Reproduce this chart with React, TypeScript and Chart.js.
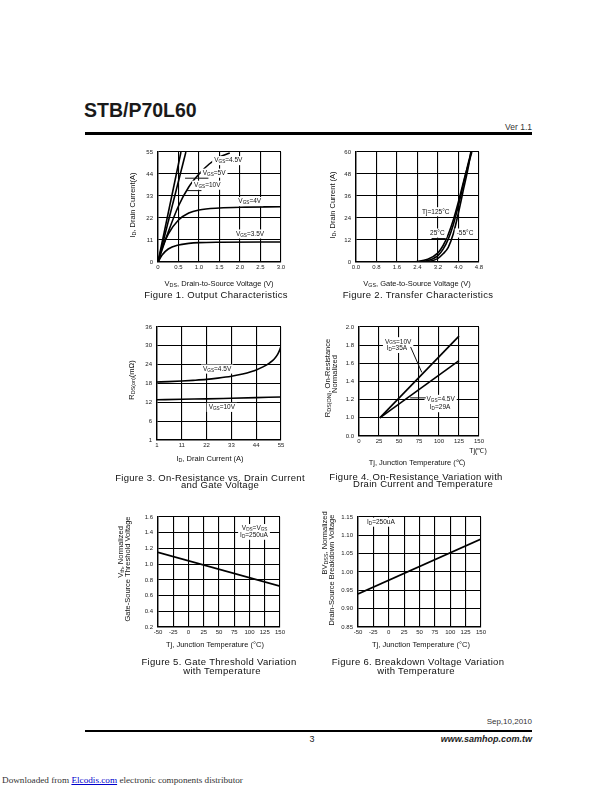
import React, { useEffect, useRef } from "react";
import { Chart, registerables } from "chart.js";

Chart.register(...registerables);

const FONT = '"Liberation Sans", Arial, Helvetica, sans-serif';

// ---------------- Figure 1: Output Characteristics ----------------
const fig1XTicks = [0, 0.5, 1, 1.5, 2, 2.5, 3];
const fig1XTickLabels = ["0", "0.5", "1.0", "1.5", "2.0", "2.5", "3.0"];
const fig1YTicks = [0, 11, 22, 33, 44, 55];
const fig1YTickLabels = ["0", "11", "22", "33", "44", "55"];
const fig1Vgs10Vds = [0, 0.56];
const fig1Vgs10Id = [0, 55];
const fig1Vgs5Vds = [0, 0.68];
const fig1Vgs5Id = [0, 55];
const fig1Vgs45Vds = [0, 0.25, 0.5, 0.75, 1.0, 1.25, 1.5, 1.75];
const fig1Vgs45Id = [0, 15, 28, 37.5, 44, 49, 52.5, 54.5];
const fig1Vgs4Vds = [0, 0.1, 0.25, 0.5, 0.75, 1.0, 1.5, 2.0, 3.0];
const fig1Vgs4Id = [0, 7, 14, 21, 24.5, 26, 27, 27.4, 27.6];
const fig1Vgs35Vds = [0, 0.1, 0.25, 0.5, 0.75, 1.0, 1.5, 3.0];
const fig1Vgs35Id = [0, 3.5, 6.5, 8.5, 9.3, 9.7, 9.9, 10.0];

// ---------------- Figure 2: Transfer Characteristics ----------------
const fig2XTicks = [0, 0.8, 1.6, 2.4, 3.2, 4.0, 4.8];
const fig2XTickLabels = ["0.0", "0.8", "1.6", "2.4", "3.2", "4.0", "4.8"];
const fig2YTicks = [0, 12, 24, 36, 48, 60];
const fig2YTickLabels = ["0", "12", "24", "36", "48", "60"];
const fig2T125Vgs = [0, 2.0, 2.4, 2.8, 3.2, 3.4, 3.6, 3.8, 4.0, 4.2, 4.4, 4.52];
const fig2T125Id = [0, 0, 0.3, 1.5, 5, 9, 15, 23, 33, 44, 54, 60];
const fig2T25Vgs = [0, 2.2, 2.4, 2.8, 3.2, 3.4, 3.6, 3.8, 4.0, 4.2, 4.4, 4.5];
const fig2T25Id = [0, 0, 0.1, 0.8, 3.5, 7, 12.5, 20.5, 31, 43, 55, 60];
const fig2Tm55Vgs = [0, 2.4, 2.8, 3.2, 3.4, 3.6, 3.8, 4.0, 4.2, 4.4, 4.48];
const fig2Tm55Id = [0, 0, 0.3, 2, 4.5, 8, 15.5, 27, 40, 53, 60];

// ---------------- Figure 3: On-Resistance vs Drain Current ----------------
const fig3XTicks = [0, 11, 22, 33, 44, 55];
const fig3XTickLabels = ["1", "11", "22", "33", "44", "55"];
const fig3YTicks = [0, 6, 12, 18, 24, 30, 36];
const fig3YTickLabels = ["1", "6", "12", "18", "24", "30", "36"];
const fig3Vgs45Id = [0, 5, 11, 16, 22, 27, 33, 38, 42, 44, 47, 50, 52, 53.5, 54.5, 55];
const fig3Vgs45Rds = [18.5, 18.6, 18.8, 19.0, 19.3, 19.7, 20.3, 21.0, 21.8, 22.3, 23.3, 24.6, 25.8, 27.3, 28.8, 29.9];
const fig3Vgs10Id = [0, 11, 22, 33, 44, 55];
const fig3Vgs10Rds = [12.8, 13.0, 13.1, 13.3, 13.5, 13.7];

// ---------------- Figure 4: On-Resistance vs Temperature ----------------
const fig4XTicks = [0, 25, 50, 75, 100, 125, 150];
const fig4XTickLabels = ["0", "25", "50", "75", "100", "125", "150"];
const fig4YTicks = [0.8, 1.0, 1.2, 1.4, 1.6, 1.8, 2.0];
const fig4YTickLabels = ["0.0", "1.0", "1.2", "1.4", "1.6", "1.8", "2.0"];
const fig4Vgs10Tj = [26, 125];
const fig4Vgs10Rn = [1.0, 1.9];
const fig4Vgs45Tj = [26, 125];
const fig4Vgs45Rn = [1.0, 1.63];

// ---------------- Figure 5: Gate Threshold vs Temperature ----------------
const fig5XTicks = [-50, -25, 0, 25, 50, 75, 100, 125, 150];
const fig5XTickLabels = ["-50", "-25", "0", "25", "50", "75", "100", "125", "150"];
const fig5YTicks = [0.2, 0.4, 0.6, 0.8, 1.0, 1.2, 1.4, 1.6];
const fig5YTickLabels = ["0.2", "0.4", "0.6", "0.8", "1.0", "1.2", "1.4", "1.6"];
const fig5Tj = [-50, 150];
const fig5Vth = [1.15, 0.72];

// ---------------- Figure 6: Breakdown Voltage vs Temperature ----------------
const fig6XTicks = [-50, -25, 0, 25, 50, 75, 100, 125, 150];
const fig6XTickLabels = ["-50", "-25", "0", "25", "50", "75", "100", "125", "150"];
const fig6YTicks = [0.85, 0.9, 0.95, 1.0, 1.05, 1.1, 1.15];
const fig6YTickLabels = ["0.85", "0.90", "0.95", "1.00", "1.05", "1.10", "1.15"];
const fig6Tj = [-50, 150];
const fig6Bv = [0.94, 1.09];

// ------------------------------------------------------------------
type Series = { x: number[]; y: number[]; smooth?: boolean };
type DLabel = { x: number; y: number; text: string; bg?: boolean; align?: "left" | "center" | "right" };
type Leader = { x1: number; y1: number; x2: number; y2: number };
type PText = { text: string; x: number; y: number; size?: number };
type Spec = {
  plot: { l: number; t: number; r: number; b: number };
  xMin: number; xMax: number; yMin: number; yMax: number;
  xTicks: number[]; xTickLabels: string[];
  yTicks: number[]; yTickLabels: string[];
  series: Series[];
  labels: DLabel[];
  leaders: Leader[];
  xTitle: PText;
  yTitles: PText[];
  extras?: PText[];
};

const PADL = 62, PADT = 12, PADR = 24, PADB = 36;

function parseRich(s: string) {
  const out: { t: string; sub: boolean }[] = [];
  const re = /_\{([^}]*)\}/g;
  let last = 0;
  let m: RegExpExecArray | null;
  while ((m = re.exec(s))) {
    if (m.index > last) out.push({ t: s.slice(last, m.index), sub: false });
    out.push({ t: m[1], sub: true });
    last = re.lastIndex;
  }
  if (last < s.length) out.push({ t: s.slice(last), sub: false });
  return out;
}

function drawRich(
  ctx: CanvasRenderingContext2D, s: string, x: number, y: number, size: number,
  align: "left" | "center" | "right", bg = false
) {
  const parts = parseRich(s);
  const subSize = size * 0.72;
  const widths = parts.map((p) => {
    ctx.font = `${p.sub ? subSize : size}px ${FONT}`;
    return ctx.measureText(p.t).width;
  });
  const total = widths.reduce((a, b) => a + b, 0);
  let cx = align === "left" ? x : align === "center" ? x - total / 2 : x - total;
  if (bg) {
    ctx.save();
    ctx.fillStyle = "#fff";
    ctx.fillRect(cx - 2, y - size * 0.7, total + 4, size * 1.4);
    ctx.restore();
  }
  ctx.textAlign = "left";
  ctx.textBaseline = "middle";
  parts.forEach((p, i) => {
    ctx.font = `${p.sub ? subSize : size}px ${FONT}`;
    ctx.fillText(p.t, cx, p.sub ? y + size * 0.22 : y);
    cx += widths[i];
  });
}

function makeDecor(spec: Spec) {
  const ox = spec.plot.l - PADL;
  const oy = spec.plot.t - PADT;
  return {
    id: "decor",
    afterDraw(chart: any) {
      const ctx: CanvasRenderingContext2D = chart.ctx;
      const xs = chart.scales.x;
      const ys = chart.scales.y;
      ctx.save();
      ctx.fillStyle = "#111";
      ctx.strokeStyle = "#111";
      ctx.lineWidth = 1;
      spec.labels.forEach((l) => {
        drawRich(ctx, l.text, xs.getPixelForValue(l.x), ys.getPixelForValue(l.y), 6.5, l.align || "left", !!l.bg);
      });
      spec.leaders.forEach((l) => {
        ctx.beginPath();
        ctx.moveTo(xs.getPixelForValue(l.x1), ys.getPixelForValue(l.y1));
        ctx.lineTo(xs.getPixelForValue(l.x2), ys.getPixelForValue(l.y2));
        ctx.stroke();
      });
      const t = spec.xTitle;
      drawRich(ctx, t.text, t.x - ox, t.y - oy, t.size || 7.5, "center");
      (spec.extras || []).forEach((e) => drawRich(ctx, e.text, e.x - ox, e.y - oy, e.size || 7.5, "center"));
      spec.yTitles.forEach((yt) => {
        ctx.save();
        ctx.translate(yt.x - ox, yt.y - oy);
        ctx.rotate(-Math.PI / 2);
        drawRich(ctx, yt.text, 0, 0, yt.size || 7.5, "center");
        ctx.restore();
      });
      ctx.restore();
    },
  };
}

function buildConfig(spec: Spec): any {
  const tickFont = { family: FONT, size: 6 };
  return {
    type: "line",
    data: {
      datasets: spec.series.map((s) => ({
        data: s.x.map((x, i) => ({ x, y: s.y[i] })),
        borderColor: "#000",
        borderWidth: 1.6,
        pointRadius: 0,
        fill: false,
        tension: 0,
        cubicInterpolationMode: s.smooth ? "monotone" : "default",
      })),
    },
    options: {
      responsive: false,
      animation: false,
      devicePixelRatio: 1,
      layout: { padding: { left: 0, top: PADT, right: PADR, bottom: 0 } },
      plugins: { legend: { display: false }, tooltip: { enabled: false } },
      scales: {
        x: {
          type: "linear",
          min: spec.xMin,
          max: spec.xMax,
          afterBuildTicks: (sc: any) => { sc.ticks = spec.xTicks.map((v) => ({ value: v })); },
          afterFit: (sc: any) => { sc.height = PADB; sc.paddingLeft = 0; sc.paddingRight = 0; },
          ticks: {
            autoSkip: false, maxRotation: 0, minRotation: 0, padding: 2,
            font: tickFont, color: "#222",
            callback: (_v: any, i: number) => spec.xTickLabels[i],
          },
          grid: { color: "#000", lineWidth: 1.1, drawTicks: false },
          border: { color: "#000", width: 1.4 },
        },
        y: {
          type: "linear",
          min: spec.yMin,
          max: spec.yMax,
          afterBuildTicks: (sc: any) => { sc.ticks = spec.yTicks.map((v) => ({ value: v })); },
          afterFit: (sc: any) => { sc.width = PADL; sc.paddingTop = 0; sc.paddingBottom = 0; },
          ticks: {
            autoSkip: false, padding: 5,
            font: tickFont, color: "#222",
            callback: (_v: any, i: number) => spec.yTickLabels[i],
          },
          grid: { color: "#000", lineWidth: 1.1, drawTicks: false },
          border: { color: "#000", width: 1.4 },
        },
      },
    },
    plugins: [makeDecor(spec)],
  };
}

function Figure({ spec }: { spec: Spec }) {
  const ref = useRef<HTMLCanvasElement>(null);
  const w = spec.plot.r - spec.plot.l + PADL + PADR;
  const h = spec.plot.b - spec.plot.t + PADT + PADB;
  useEffect(() => {
    const chart = new Chart(ref.current as HTMLCanvasElement, buildConfig(spec));
    return () => chart.destroy();
  }, []);
  return (
    <canvas
      ref={ref}
      width={w}
      height={h}
      style={{ position: "absolute", left: spec.plot.l - PADL, top: spec.plot.t - PADT, width: w, height: h }}
    />
  );
}

const fig1: Spec = {
  plot: { l: 158, t: 152, r: 281, b: 262 },
  xMin: 0, xMax: 3, yMin: 0, yMax: 55,
  xTicks: fig1XTicks, xTickLabels: fig1XTickLabels, yTicks: fig1YTicks, yTickLabels: fig1YTickLabels,
  series: [
    { x: fig1Vgs10Vds, y: fig1Vgs10Id },
    { x: fig1Vgs5Vds, y: fig1Vgs5Id },
    { x: fig1Vgs45Vds, y: fig1Vgs45Id, smooth: true },
    { x: fig1Vgs4Vds, y: fig1Vgs4Id, smooth: true },
    { x: fig1Vgs35Vds, y: fig1Vgs35Id, smooth: true },
  ],
  labels: [
    { x: 1.37, y: 50.7, text: "V_{GS}=4.5V", bg: true },
    { x: 1.09, y: 44.4, text: "V_{GS}=5V", bg: true },
    { x: 0.88, y: 38.4, text: "V_{GS}=10V", bg: true },
    { x: 1.96, y: 30.2, text: "V_{GS}=4V", bg: true },
    { x: 1.9, y: 14.0, text: "V_{GS}=3.5V", bg: true },
  ],
  leaders: [
    { x1: 0.66, y1: 41.9, x2: 1.23, y2: 41.9 },
    { x1: 0.7, y1: 35.7, x2: 1.06, y2: 35.7 },
  ],
  xTitle: { text: "V_{DS}, Drain-to-Source Voltage (V)", x: 219, y: 284 },
  yTitles: [{ text: "I_{D}, Drain Current(A)", x: 133, y: 205 }],
};

const fig2: Spec = {
  plot: { l: 356, t: 152, r: 479, b: 262 },
  xMin: 0, xMax: 4.8, yMin: 0, yMax: 60,
  xTicks: fig2XTicks, xTickLabels: fig2XTickLabels, yTicks: fig2YTicks, yTickLabels: fig2YTickLabels,
  series: [
    { x: fig2T125Vgs, y: fig2T125Id, smooth: true },
    { x: fig2T25Vgs, y: fig2T25Id, smooth: true },
    { x: fig2Tm55Vgs, y: fig2Tm55Id, smooth: true },
  ],
  labels: [
    { x: 2.58, y: 27.4, text: "Tj=125°C", bg: true },
    { x: 2.89, y: 15.8, text: "25°C", bg: true },
    { x: 3.93, y: 15.8, text: "-55°C", bg: true },
  ],
  leaders: [{ x1: 2.95, y1: 12.8, x2: 3.5, y2: 12.8 }],
  xTitle: { text: "V_{GS}, Gate-to-Source Voltage (V)", x: 417, y: 284 },
  yTitles: [{ text: "I_{D}, Drain Current (A)", x: 333, y: 205 }],
};

const fig3: Spec = {
  plot: { l: 157, t: 327, r: 281, b: 440 },
  xMin: 0, xMax: 55, yMin: 0, yMax: 36,
  xTicks: fig3XTicks, xTickLabels: fig3XTickLabels, yTicks: fig3YTicks, yTickLabels: fig3YTickLabels,
  series: [
    { x: fig3Vgs45Id, y: fig3Vgs45Rds, smooth: true },
    { x: fig3Vgs10Id, y: fig3Vgs10Rds, smooth: true },
  ],
  labels: [
    { x: 20.4, y: 22.6, text: "V_{GS}=4.5V", bg: true },
    { x: 22.9, y: 10.4, text: "V_{GS}=10V", bg: true },
  ],
  leaders: [],
  xTitle: { text: "I_{D}, Drain Current (A)", x: 210, y: 459 },
  yTitles: [{ text: "R_{DS(on)}(mΩ)", x: 132, y: 380 }],
};

const fig4: Spec = {
  plot: { l: 359, t: 327, r: 479, b: 436 },
  xMin: 0, xMax: 150, yMin: 0.8, yMax: 2.0,
  xTicks: fig4XTicks, xTickLabels: fig4XTickLabels, yTicks: fig4YTicks, yTickLabels: fig4YTickLabels,
  series: [
    { x: fig4Vgs10Tj, y: fig4Vgs10Rn },
    { x: fig4Vgs45Tj, y: fig4Vgs45Rn },
  ],
  labels: [
    { x: 32.4, y: 1.838, text: "V_{GS}=10V", bg: true },
    { x: 34.5, y: 1.764, text: "I_{D}=35A", bg: true },
    { x: 84.4, y: 1.203, text: "V_{GS}=4.5V", bg: true },
    { x: 88.5, y: 1.112, text: "I_{D}=29A", bg: true },
  ],
  leaders: [
    { x1: 64.5, y1: 1.78, x2: 78.5, y2: 1.5 },
    { x1: 64, y1: 1.22, x2: 83.5, y2: 1.22 },
  ],
  xTitle: { text: "Tj, Junction Temperature (℃)", x: 417, y: 463 },
  extras: [{ text: "Tj(℃)", x: 478, y: 451, size: 7 }],
  yTitles: [
    { text: "R_{DS(ON)}, On-Resistance", x: 328, y: 378 },
    { text: "Normalized", x: 335, y: 374 },
  ],
};

const fig5: Spec = {
  plot: { l: 158, t: 517, r: 280, b: 627 },
  xMin: -50, xMax: 150, yMin: 0.2, yMax: 1.6,
  xTicks: fig5XTicks, xTickLabels: fig5XTickLabels, yTicks: fig5YTicks, yTickLabels: fig5YTickLabels,
  series: [{ x: fig5Tj, y: fig5Vth }],
  labels: [
    { x: 87.4, y: 1.453, text: "V_{DS}=V_{GS}", bg: true },
    { x: 84.6, y: 1.368, text: "I_{D}=250uA", bg: true },
  ],
  leaders: [],
  xTitle: { text: "Tj, Junction Temperature (°C)", x: 215, y: 645 },
  yTitles: [
    { text: "V_{th}, Normalized", x: 121, y: 552 },
    { text: "Gate-Source Threshold Voltage", x: 128, y: 569 },
  ],
};

const fig6: Spec = {
  plot: { l: 358, t: 517, r: 481, b: 627 },
  xMin: -50, xMax: 150, yMin: 0.85, yMax: 1.15,
  xTicks: fig6XTicks, xTickLabels: fig6XTickLabels, yTicks: fig6YTicks, yTickLabels: fig6YTickLabels,
  series: [{ x: fig6Tj, y: fig6Bv }],
  labels: [{ x: -35.4, y: 1.136, text: "I_{D}=250uA", bg: true }],
  leaders: [],
  xTitle: { text: "Tj, Junction Temperature (°C)", x: 421, y: 645 },
  yTitles: [
    { text: "BV_{DSS}, Normalized", x: 325, y: 543 },
    { text: "Drain-Source Breakdown Voltage", x: 332, y: 570 },
  ],
};

type Cap = { text: string; cx: number; y: number };
const captions: Cap[] = [
  { text: "Figure 1. Output Characteristics", cx: 216, y: 295 },
  { text: "Figure 2. Transfer Characteristics", cx: 418, y: 295 },
  { text: "Figure 3. On-Resistance vs. Drain Current", cx: 210, y: 478 },
  { text: "and Gate Voltage", cx: 220, y: 485 },
  { text: "Figure 4. On-Resistance Variation with", cx: 416, y: 477 },
  { text: "Drain Current and Temperature", cx: 423, y: 484 },
  { text: "Figure 5. Gate Threshold Variation", cx: 219, y: 662 },
  { text: "with Temperature", cx: 222, y: 671 },
  { text: "Figure 6. Breakdown Voltage Variation", cx: 418, y: 662 },
  { text: "with Temperature", cx: 416, y: 671 },
];

function Txt(props: {
  x: number; y: number; size: number; children: React.ReactNode;
  align?: "left" | "center" | "right"; style?: React.CSSProperties;
}) {
  const { x, y, size, align = "left" } = props;
  const W = 400;
  const left = align === "left" ? x : align === "center" ? x - W / 2 : x - W;
  return (
    <div
      style={{
        position: "absolute",
        left,
        top: y - size * 0.6,
        width: W,
        textAlign: align,
        fontSize: size,
        lineHeight: `${size * 1.2}px`,
        whiteSpace: "nowrap",
        fontFamily: FONT,
        color: "#111",
        ...props.style,
      }}
    >
      {props.children}
    </div>
  );
}

export default function App() {
  return (
    <div style={{ position: "absolute", left: 0, top: 0, width: 612, height: 792, background: "#fff", overflow: "hidden" }}>
      <Txt x={84} y={111} size={19.5} style={{ fontWeight: "bold", color: "#1a1a1a" }}>STB/P70L60</Txt>
      <Txt x={532} y={127} size={8.5} align="right" style={{ color: "#333" }}>Ver 1.1</Txt>
      <div style={{ position: "absolute", left: 85, top: 132, width: 447, height: 2.5, background: "#000" }} />

      <Figure spec={fig1} />
      <Figure spec={fig2} />
      <Figure spec={fig3} />
      <Figure spec={fig4} />
      <Figure spec={fig5} />
      <Figure spec={fig6} />

      {captions.map((c, i) => (
        <Txt key={i} x={c.cx} y={c.y} size={9.5} align="center" style={{ letterSpacing: "0.3px" }}>{c.text}</Txt>
      ))}

      <Txt x={532} y={722} size={8} align="right" style={{ color: "#333" }}>Sep,10,2010</Txt>
      <div style={{ position: "absolute", left: 85, top: 730, width: 447, height: 2, background: "#000" }} />
      <Txt x={312} y={739} size={9} align="center" style={{ color: "#222" }}>3</Txt>
      <Txt x={532} y={739} size={9} align="right" style={{ fontWeight: "bold", fontStyle: "italic", color: "#222" }}>www.samhop.com.tw</Txt>
      <Txt x={2} y={781} size={9.2} style={{ fontFamily: '"Liberation Serif", "Times New Roman", serif', color: "#333" }}>
        Downloaded from <span style={{ color: "#0000cc", textDecoration: "underline" }}>Elcodis.com</span>  electronic components distributor
      </Txt>
    </div>
  );
}
